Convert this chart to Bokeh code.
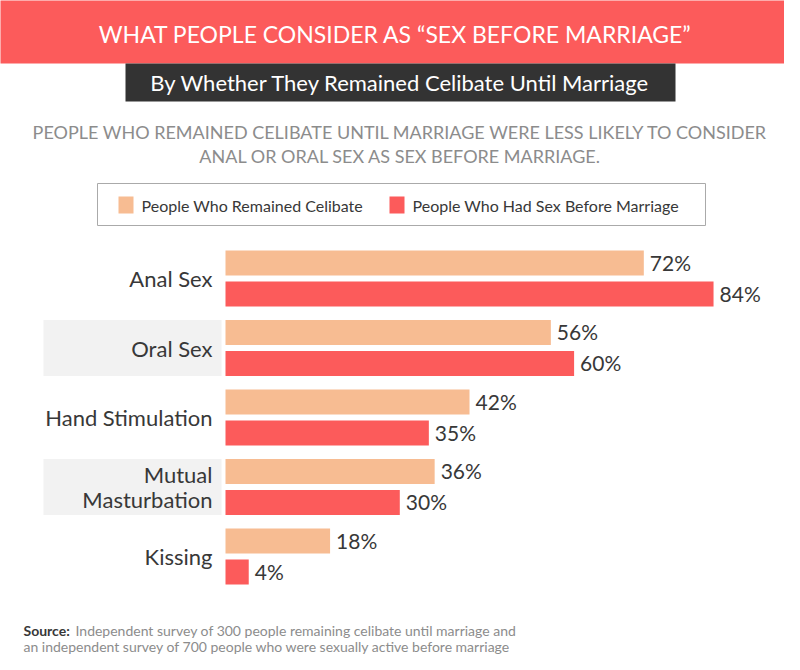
from bokeh.plotting import figure
from bokeh.models import Range1d, Label, ColumnDataSource
from bokeh.core.properties import value
from bokeh.embed import file_html
from bokeh.resources import INLINE

# ---- data ----
categories = ["Anal Sex", "Oral Sex", "Hand Stimulation", "Mutual\nMasturbation", "Kissing"]
celibate = [72, 56, 42, 36, 18]
sex_before = [84, 60, 35, 30, 4]
series_names = ["People Who Remained Celibate", "People Who Had Sex Before Marriage"]
title = "WHAT PEOPLE CONSIDER AS \u201cSEX BEFORE MARRIAGE\u201d"
subtitle = "By Whether They Remained Celibate Until Marriage"
note_lines = ["PEOPLE WHO REMAINED CELIBATE UNTIL MARRIAGE WERE LESS LIKELY TO CONSIDER",
              "ANAL OR ORAL SEX AS SEX BEFORE MARRIAGE."]
source_head = "Source:"
source_lines = ["Independent survey of 300 people remaining celibate until marriage and",
                "an independent survey of 700 people who were sexually active before marriage"]

# ---- style / layout ----
ORANGE = "#F7BC92"
RED = "#FC5B5B"
DARK = "#383838"
GREY_TXT = "#8c8c8c"
FONT = "Lato"
W, H = 784, 654
ZERO_PX = 225.0
PX_PER_PCT = 5.81
FIRST_CENTER = 262.5
STEP = 69.5
BAR_H = 25
PAIR_GAP = 31

def X(px):
    return (px - ZERO_PX) / PX_PER_PCT

p = figure(width=W, height=H, output_backend="svg", toolbar_location=None,
           x_range=Range1d(X(0), X(W)), y_range=Range1d(H, 0),
           min_border=0, outline_line_color=None, background_fill_color="white")
p.axis.visible = False
p.grid.visible = False

# header band
p.quad(left=[X(-10)], right=[X(W + 10)], top=[-10], bottom=[63], fill_color=RED, line_color=None)
p.quad(left=[X(125)], right=[X(675)], top=[63], bottom=[101], fill_color="#333333", line_color=None)
p.add_layout(Label(x=X(395), y=33, text=title, text_color="white", text_font=FONT,
                   text_font_size="23px", text_align="center", text_baseline="middle"))
p.add_layout(Label(x=X(400), y=82, text=subtitle, text_color="white", text_font=FONT,
                   text_font_size="22px", text_align="center", text_baseline="middle"))
for i, ln in enumerate(note_lines):
    p.add_layout(Label(x=X(400), y=131 + 24 * i, text=ln, text_color=GREY_TXT, text_font=FONT,
                       text_font_size="18px", text_align="center", text_baseline="middle"))

# legend
p.quad(left=[X(97)], right=[X(705)], top=[183], bottom=[225], fill_color="white",
       line_color="#aaaaaa", line_width=1)
leg_x = [118, 389]
leg_colors = [ORANGE, RED]
for lx, c, name in zip(leg_x, leg_colors, series_names):
    p.quad(left=[X(lx)], right=[X(lx + 15)], top=[196], bottom=[213], fill_color=c, line_color=None)
    p.add_layout(Label(x=X(lx + 23), y=205, text=name, text_color=DARK, text_font=FONT,
                       text_font_size="16px", text_align="left", text_baseline="middle"))

# positions
n = len(categories)
y_orange = [FIRST_CENTER + i * STEP for i in range(n)]
y_red = [y + PAIR_GAP for y in y_orange]
y_mid = [(a + b) / 2 for a, b in zip(y_orange, y_red)]

# shaded label backgrounds for alternate rows
shade_idx = [i for i in range(n) if i % 2 == 1]
p.quad(left=[X(43)] * len(shade_idx), right=[X(221)] * len(shade_idx),
       top=[y_orange[i] - BAR_H / 2 for i in shade_idx],
       bottom=[y_red[i] + BAR_H / 2 for i in shade_idx],
       fill_color="#F2F2F2", line_color=None)

src_o = ColumnDataSource(dict(y=y_orange, v=celibate, t=[f"{v}%" for v in celibate]))
src_r = ColumnDataSource(dict(y=y_red, v=sex_before, t=[f"{v}%" for v in sex_before]))
p.hbar(y="y", left=0, right="v", height=BAR_H, source=src_o, fill_color=ORANGE, line_color=None)
p.hbar(y="y", left=0, right="v", height=BAR_H, source=src_r, fill_color=RED, line_color=None)
for src in (src_o, src_r):
    p.text(x="v", y="y", text="t", source=src, x_offset=6, y_offset=-1, text_color=DARK,
           text_font=value(FONT), text_font_size="21px", text_baseline="middle", text_align="left")

src_c = ColumnDataSource(dict(y=y_mid, t=categories))
p.text(x=X(212), y="y", text="t", source=src_c, text_color=DARK, text_font=value(FONT),
       text_font_size="22px", text_align="right", text_baseline="middle", text_line_height=0.95)

# source
p.add_layout(Label(x=X(23), y=630, text=source_head, text_color=DARK, text_font=FONT,
                   text_font_size="14px", text_font_style="bold", text_baseline="middle"))
p.add_layout(Label(x=X(75), y=630, text=source_lines[0], text_color=GREY_TXT, text_font=FONT,
                   text_font_size="14px", text_baseline="middle"))
p.add_layout(Label(x=X(23), y=646, text=source_lines[1], text_color=GREY_TXT, text_font=FONT,
                   text_font_size="14px", text_baseline="middle"))

open("out.html", "w").write(file_html(p, INLINE))
